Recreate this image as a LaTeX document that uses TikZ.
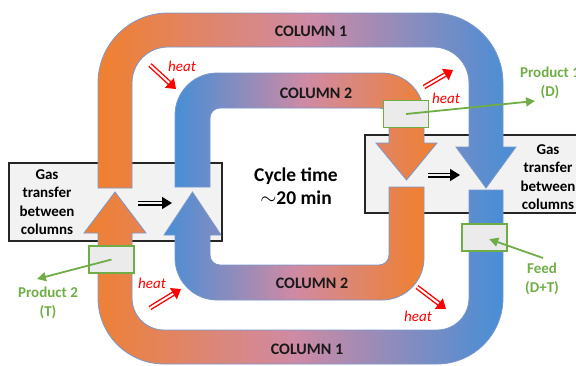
\documentclass[tikz,border=0pt]{standalone}
\usepackage{fontspec}
\setmainfont{Carlito}
\usetikzlibrary{arrows.meta}

\definecolor{colorange}{HTML}{F0802F}
\definecolor{colblue}{HTML}{478ED6}
\definecolor{colmid}{HTML}{CF8AA4}
\definecolor{coledge}{HTML}{7A98CC}
\definecolor{colgreen}{HTML}{70AD47}
\definecolor{colbox}{HTML}{F2F2F2}

\begin{document}
\begin{tikzpicture}[x=1pt, y=-1pt,
  column/.style={draw=coledge, line width=0.8pt},
  orangeblue/.style={left color=colorange, right color=colblue, middle color=colmid},
  blueorange/.style={left color=colblue, right color=colorange, middle color=colmid},
  gasbox/.style={draw=black!85, line width=1.2pt, fill=colbox, inner sep=0pt},
  gastext/.style={font=\fontsize{15}{18.5}\selectfont\bfseries, align=center},
  collabel/.style={font=\fontsize{16}{19}\selectfont\bfseries, text=black!90},
  valve/.style={draw=colgreen, line width=1.5pt, fill=black!8, minimum width=45pt, minimum height=27pt, inner sep=0pt},
  flow/.style={draw=colgreen, line width=1.8pt, -{Triangle[length=9pt,width=9pt]}},
  prodtext/.style={font=\fontsize{15}{19}\selectfont\bfseries, text=colgreen, align=center},
  heatarrow/.style={draw=red, line width=1.4pt, double=white, double distance=2pt, -{Triangle[length=9pt,width=13pt]}},
  heattext/.style={font=\fontsize{15}{18}\selectfont\itshape, text=red},
  shiftarrow/.style={draw=black, line width=1.5pt, double=colbox, double distance=2pt, -{Triangle[length=10pt,width=12pt]}}]
  \useasboundingbox (0,0) rectangle (576,365);

  % gas transfer boxes
  \node[gasbox, minimum width=213pt, minimum height=78pt] (gasL) at (115.5,202) {};
  \node[gasbox, minimum width=225pt, minimum height=78pt] (gasR) at (477.5,174) {};
  \node[gastext] (gasLtext) at (47,202) {Gas\\transfer\\between\\columns};
  \node[gastext] (gasRtext) at (548,177) {Gas\\transfer\\between\\columns};

  % column 1, upper and lower part
  \draw[column, orangeblue] (98,188) -- (98,83) arc[start angle=180, end angle=270, radius=70]
    -- (433,13) arc[start angle=270, end angle=360, radius=70] -- (503,147) -- (516,147) -- (486,188)
    -- (456,147) -- (469,147) -- (469,83) arc[start angle=0, end angle=-90, radius=36]
    -- (168,47) arc[start angle=270, end angle=180, radius=36] -- (132,188) -- cycle;
  \draw[column, orangeblue] (469,190) -- (503,190) -- (503,298) arc[start angle=0, end angle=90, radius=66]
    -- (164,364) arc[start angle=90, end angle=180, radius=66] -- (98,233) -- (84,233) -- (115,192)
    -- (146,233) -- (132,233) -- (132,298) arc[start angle=180, end angle=90, radius=32]
    -- (437,330) arc[start angle=90, end angle=0, radius=32] -- cycle;

  % column 2, upper and lower part
  \draw[column, blueorange] (175,187) -- (175,115) arc[start angle=180, end angle=270, radius=42]
    -- (382,73) arc[start angle=270, end angle=360, radius=42] -- (424,143) -- (437,143) -- (406.5,180)
    -- (376,143) -- (389,143) -- (389,118) arc[start angle=0, end angle=-90, radius=10]
    -- (220,108) arc[start angle=270, end angle=180, radius=10] -- (210,187) -- cycle;
  \draw[column, blueorange] (389,187) -- (424,187) -- (424,258) arc[start angle=0, end angle=90, radius=42]
    -- (217,300) arc[start angle=90, end angle=180, radius=42] -- (175,235) -- (164,235) -- (192.5,192)
    -- (221,235) -- (210,235) -- (210,255) arc[start angle=180, end angle=90, radius=10]
    -- (379,265) arc[start angle=90, end angle=0, radius=10] -- cycle;

  \node[collabel] (c1top) at (311,31) {COLUMN 1};
  \node[collabel] (c2top) at (316,93) {COLUMN 2};
  \node[collabel] (c2bot) at (312,283) {COLUMN 2};
  \node[collabel] (c1bot) at (307,349) {COLUMN 1};

  \node[font=\fontsize{19.5}{23}\selectfont\bfseries, align=center] (cycle) at (296,186) {Cycle time\\$\sim$20 min};

  % transfer direction
  \coordinate (shLs) at (138,203); \coordinate (shLe) at (172,203);
  \coordinate (shRs) at (428,175); \coordinate (shRe) at (460,175);
  \draw[shiftarrow] (shLs) -- (shLe);
  \draw[shiftarrow] (shRs) -- (shRe);

  % heat between the columns
  \foreach \n/\s/\e/\l in {hta/{150,65}/{176,89}/{182,66}, htb/{424,87}/{453,70}/{446,98},
                           htc/{150,308}/{181,289}/{152,283}, htd/{417,287}/{446,309}/{418,316}}{
    \coordinate (\n s) at (\s); \coordinate (\n e) at (\e);
    \draw[heatarrow] (\n s) -- (\n e);
    \node[heattext] (\n) at (\l) {heat};
  }

  % products and feed
  \node[valve] (v1) at (406,114) {};
  \node[valve] (v2) at (111.5,259.5) {};
  \node[valve] (v3) at (484.5,237.5) {};
  \coordinate (p1end) at (535,101);
  \coordinate (p2end) at (37,279);
  \coordinate (feedstart) at (543,258);
  \draw[flow] (v1.center) -- (p1end);
  \draw[flow] (v2.center) -- (p2end);
  \draw[flow, shorten >=5pt] (feedstart) -- (v3.center);
  \node[prodtext] (p1) at (550,83) {Product 1\\(D)};
  \node[prodtext] (p2) at (48,303) {Product 2\\(T)};
  \node[prodtext] (feed) at (542,279) {Feed\\(D+T)};
\end{tikzpicture}
\end{document}
